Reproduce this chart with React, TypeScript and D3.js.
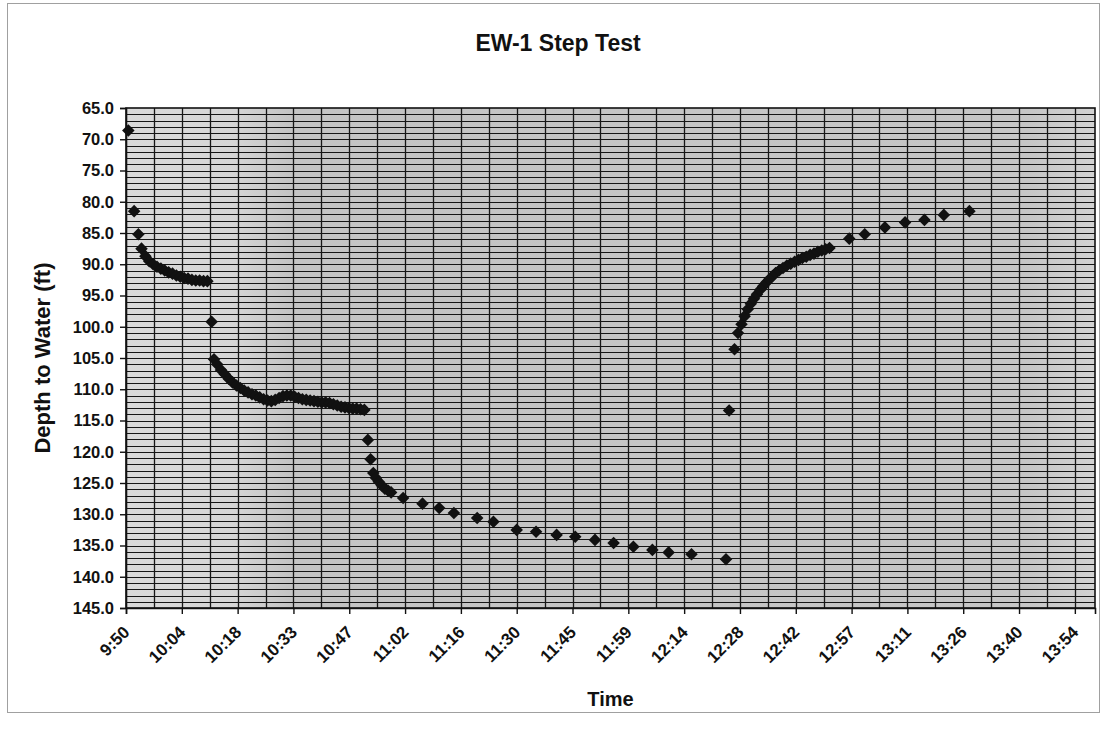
import React, { useEffect, useRef } from "react";
import * as d3 from "d3";

// logger readings, EW-1 step test
const times = [
  "9:50:36", "9:52:06", "9:53:12", "9:54:00", "9:55:00", "9:56:00", "9:57:00", "9:58:00",
  "9:59:00", "10:00:00", "10:01:00", "10:02:00", "10:03:00", "10:04:00", "10:05:00", "10:06:00",
  "10:07:00", "10:08:00", "10:09:00", "10:10:00", "10:11:00",
  "10:12:06", "10:12:42", "10:13:30", "10:14:30", "10:15:30", "10:16:30", "10:17:30", "10:18:30",
  "10:19:30", "10:20:30", "10:21:30", "10:22:30", "10:23:30", "10:24:30", "10:25:30", "10:26:30",
  "10:27:30", "10:28:30", "10:29:30", "10:30:30", "10:31:30", "10:32:30", "10:33:30", "10:34:30",
  "10:35:30", "10:36:30", "10:37:30", "10:38:30", "10:39:30", "10:40:30", "10:41:30", "10:42:30",
  "10:43:30", "10:44:30", "10:45:30", "10:46:30", "10:47:30", "10:48:30", "10:49:30", "10:50:30",
  "10:51:30",
  "10:52:24", "10:53:06", "10:53:48", "10:54:30", "10:55:12", "10:56:00", "10:56:48", "10:57:36",
  "10:58:24", "11:01:30", "11:06:30", "11:10:48", "11:14:36", "11:20:36", "11:24:48", "11:30:48",
  "11:35:48", "11:41:06", "11:45:54", "11:51:00", "11:55:48", "12:00:54", "12:05:48", "12:10:00",
  "12:15:54", "12:24:48",
  "12:25:36", "12:27:00", "12:27:54", "12:28:48", "12:29:36", "12:30:24", "12:31:12", "12:32:00",
  "12:32:48", "12:33:36", "12:34:24", "12:35:12", "12:36:00", "12:36:48", "12:37:36", "12:38:30",
  "12:39:30", "12:40:30", "12:41:30", "12:42:30", "12:43:30", "12:44:30", "12:45:30", "12:46:30",
  "12:47:30", "12:48:30", "12:49:30", "12:50:30", "12:51:30", "12:56:36", "13:00:36", "13:05:48",
  "13:11:00", "13:16:00", "13:21:00", "13:27:36",
];

const depths = [
  68.6, 81.5, 85.2, 87.5, 88.7, 89.5, 90.0, 90.4,
  90.7, 91.0, 91.3, 91.5, 91.8, 92.0, 92.2, 92.3,
  92.5, 92.6, 92.6, 92.7, 92.7,
  99.2, 105.2, 106.0, 106.9, 107.6, 108.3, 108.9, 109.4,
  109.8, 110.2, 110.5, 110.8, 111.0, 111.3, 111.6, 111.8,
  111.9, 111.7, 111.4, 111.1, 111.0, 111.0, 111.2, 111.4,
  111.6, 111.7, 111.8, 111.9, 112.0, 112.1, 112.1, 112.2,
  112.4, 112.6, 112.8, 112.9, 113.0, 113.1, 113.1, 113.2,
  113.3,
  118.1, 121.2, 123.4, 124.2, 124.8, 125.4, 125.9, 126.2,
  126.5, 127.4, 128.3, 129.0, 129.8, 130.6, 131.2, 132.5,
  132.8, 133.3, 133.6, 134.1, 134.6, 135.2, 135.7, 136.1,
  136.4, 137.2,
  113.4, 103.6, 101.0, 99.6, 98.3, 97.2, 96.3, 95.5,
  94.8, 94.1, 93.5, 92.9, 92.4, 91.9, 91.4, 91.0,
  90.6, 90.2, 89.9, 89.6, 89.3, 89.0, 88.8, 88.5,
  88.3, 88.0, 87.8, 87.6, 87.4, 85.9, 85.2, 84.1,
  83.3, 82.9, 82.1, 81.5,
];

const xTickLabels = [
  "9:50", "10:04", "10:18", "10:33", "10:47", "11:02", "11:16", "11:30", "11:45",
  "11:59", "12:14", "12:28", "12:42", "12:57", "13:11", "13:26", "13:40", "13:54",
];

const yTicks = [65, 70, 75, 80, 85, 90, 95, 100, 105, 110, 115, 120, 125, 130, 135, 140, 145];

const W = 1102;
const H = 740;
const FONT = "'Liberation Sans', Arial, sans-serif";

export default function App() {
  const ref = useRef<SVGSVGElement>(null);

  useEffect(() => {
    document.body.style.margin = "0";
    const svg = d3.select(ref.current);
    svg.selectAll("*").remove();

    const left = 126, right = 1095, top = 108, bottom = 608;
    const parse = d3.timeParse("%H:%M:%S");
    const t0 = parse("9:50:00") as Date;
    const t1 = parse("14:00:00") as Date;

    const x = d3.scaleTime().domain([t0, t1]).range([left, right]);
    const y = d3.scaleLinear().domain([65, 145]).range([top, bottom]);

    // outer chart frame (scanned print, faint)
    svg.append("rect")
      .attr("x", 7.5).attr("y", 3.5).attr("width", W - 10).attr("height", 709)
      .attr("fill", "white").attr("stroke", "#a0a0a0").attr("stroke-width", 1);

    // plot area fill, the scan fades lighter toward the left edge
    const grad = svg.append("defs").append("linearGradient")
      .attr("id", "scan").attr("gradientUnits", "userSpaceOnUse")
      .attr("x1", left).attr("x2", right).attr("y1", 0).attr("y2", 0);
    grad.append("stop").attr("offset", 0).attr("stop-color", "#dadada");
    grad.append("stop").attr("offset", 0.11).attr("stop-color", "#d6d6d6");
    grad.append("stop").attr("offset", 0.17).attr("stop-color", "#c4c4c4");
    grad.append("stop").attr("offset", 0.93).attr("stop-color", "#c6c6c6");
    grad.append("stop").attr("offset", 1).attr("stop-color", "#d2d2d2");

    svg.append("rect")
      .attr("x", left).attr("y", top).attr("width", right - left).attr("height", bottom - top)
      .attr("fill", "url(#scan)");

    // horizontal gridlines every 1 ft
    svg.append("g")
      .selectAll("line")
      .data(d3.range(66, 145, 1))
      .join("line")
      .attr("x1", left).attr("x2", right)
      .attr("y1", (d) => Math.round(y(d)) + 0.5).attr("y2", (d) => Math.round(y(d)) + 0.5)
      .attr("stroke", "#161616").attr("stroke-width", 1.2);

    // vertical gridlines every 7.2 min
    const minor = d3.range(432, 15000, 432).map((s) => d3.timeSecond.offset(t0, s));
    svg.append("g")
      .selectAll("line")
      .data(minor)
      .join("line")
      .attr("x1", (d) => Math.round(x(d)) + 0.5).attr("x2", (d) => Math.round(x(d)) + 0.5)
      .attr("y1", top).attr("y2", bottom)
      .attr("stroke", "#161616").attr("stroke-width", 1.3);

    svg.append("rect")
      .attr("x", left).attr("y", top).attr("width", right - left).attr("height", bottom - top)
      .attr("fill", "none").attr("stroke", "#111").attr("stroke-width", 1.6);

    // axes
    const yAxis = svg.append("g")
      .attr("transform", `translate(${left},0)`)
      .call(d3.axisLeft(y).tickValues(yTicks).tickFormat(d3.format(".1f")).tickSize(6).tickPadding(6));
    yAxis.select(".domain").attr("stroke", "#111").attr("stroke-width", 1.6);
    yAxis.selectAll(".tick line").attr("stroke", "#111").attr("stroke-width", 1.4);
    yAxis.selectAll("text")
      .attr("font-family", FONT).attr("font-size", 16.5).attr("font-weight", "bold").attr("fill", "#111");

    const majors = xTickLabels.map((_, i) => d3.timeSecond.offset(t0, i * 864));
    const xAxis = svg.append("g")
      .attr("transform", `translate(0,${bottom})`)
      .call(d3.axisBottom(x).tickValues(majors).tickFormat((_, i) => xTickLabels[i]).tickSize(6));
    xAxis.select(".domain").attr("stroke", "#111").attr("stroke-width", 1.6);
    xAxis.selectAll(".tick line").attr("stroke", "#111").attr("stroke-width", 1.4);
    xAxis.selectAll("text")
      .attr("x", 0).attr("y", 0).attr("dy", "0.35em")
      .attr("transform", "translate(0,21) rotate(-45)")
      .attr("text-anchor", "end")
      .attr("font-family", FONT).attr("font-size", 17).attr("font-weight", "bold").attr("fill", "#111");

    // markers
    const diamond = d3.symbol().type(d3.symbolDiamond2).size(100)();
    svg.append("g")
      .selectAll("path")
      .data(times.map((t, i) => ({ t: parse(t) as Date, v: depths[i] })))
      .join("path")
      .attr("d", diamond)
      .attr("transform", (d) => `translate(${x(d.t)},${y(d.v)})`)
      .attr("fill", "#111");

    // titles
    svg.append("text")
      .attr("x", 558).attr("y", 51).attr("text-anchor", "middle")
      .attr("font-family", FONT).attr("font-size", 23).attr("font-weight", "bold").attr("fill", "#111")
      .text("EW-1 Step Test");

    svg.append("text")
      .attr("x", (left + right) / 2).attr("y", 706).attr("text-anchor", "middle")
      .attr("font-family", FONT).attr("font-size", 20).attr("font-weight", "bold").attr("fill", "#111")
      .text("Time");

    svg.append("text")
      .attr("transform", `translate(50,${(top + bottom) / 2}) rotate(-90)`)
      .attr("text-anchor", "middle")
      .attr("font-family", FONT).attr("font-size", 22).attr("font-weight", "bold").attr("fill", "#111")
      .text("Depth to Water (ft)");
  }, []);

  return <svg ref={ref} width={W} height={H} style={{ display: "block" }} />;
}
